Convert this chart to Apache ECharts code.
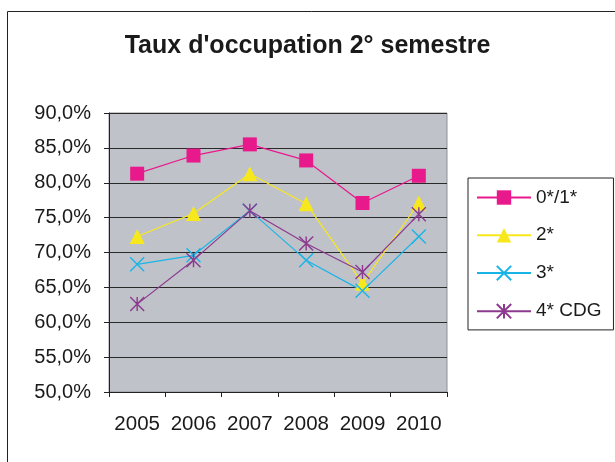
<!DOCTYPE html>
<html>
<head>
<meta charset="utf-8">
<script src="https://cdn.jsdelivr.net/npm/echarts@6/dist/echarts.min.js"></script>
<style>
  html, body { margin: 0; padding: 0; background: #fff; }
  #main { width: 615px; height: 462px; }
</style>
</head>
<body>
<div id="main"></div>
<script>
// données
var years = ['2005', '2006', '2007', '2008', '2009', '2010'];
var cat01 = [81.3, 83.9, 85.5, 83.2, 77.1, 81.0];
var cat2 = [72.3, 75.6, 81.3, 77.0, 65.6, 77.1];
var cat3 = [68.3, 69.6, 76.0, 68.9, 64.5, 72.3];
var cat4 = [62.6, 68.9, 76.0, 71.3, 67.2, 75.5];
var names = ['0*/1*', '2*', '3*', '4* CDG'];

var font = 'Liberation Sans, Arial, sans-serif';
var chart = echarts.init(document.getElementById('main'));

var option = {
  backgroundColor: '#fff',
  animation: false,
  title: {
    text: "Taux d'occupation 2° semestre",
    left: 'center',
    top: 29,
    textStyle: { fontFamily: font, fontSize: 25, fontWeight: 'bold', color: '#1a1a1a' }
  },
  graphic: [{
    type: 'rect',
    shape: { x: 7.5, y: 11.5, width: 700, height: 600 },
    style: { fill: 'none', stroke: '#222', lineWidth: 1 },
    silent: true
  }],
  legend: {
    orient: 'vertical',
    left: 468,
    top: 178,
    padding: [10, 12, 9, 8],
    itemGap: 18.7,
    itemWidth: 54,
    itemHeight: 18,
    borderColor: '#222',
    borderWidth: 1,
    textStyle: { fontFamily: font, fontSize: 19, color: '#1a1a1a' },
    data: names
  },
  grid: {
    left: 109,
    right: 168,
    top: 113,
    bottom: 70,
    show: true,
    backgroundColor: '#c0c2ca',
    borderColor: '#909090',
    borderWidth: 1
  },
  xAxis: {
    type: 'category',
    data: years,
    boundaryGap: true,
    axisLine: { lineStyle: { color: '#222', width: 1 } },
    axisTick: { show: true, length: 5, lineStyle: { color: '#222' } },
    axisLabel: { interval: 0, hideOverlap: false, margin: 22, fontFamily: font, fontSize: 20.5, color: '#1a1a1a' }
  },
  yAxis: {
    type: 'value',
    min: 50,
    max: 90,
    interval: 5,
    axisLine: { show: true, lineStyle: { color: '#222', width: 1 } },
    axisTick: { show: true, length: 5, lineStyle: { color: '#222' } },
    axisLabel: {
      margin: 18,
      fontFamily: font,
      fontSize: 20,
      color: '#1a1a1a',
      formatter: function (v) { return v.toFixed(1).replace('.', ',') + '%'; }
    },
    splitLine: { lineStyle: { color: '#2a2a2a', width: 1.2 } }
  },
  series: [
    {
      name: names[0], type: 'line', data: cat01,
      symbol: 'rect', symbolSize: 14,
      itemStyle: { color: '#e8198b' },
      lineStyle: { color: '#e8198b', width: 1.2 }
    },
    {
      name: names[1], type: 'line', data: cat2,
      symbol: 'triangle', symbolSize: 15,
      itemStyle: { color: '#f7e81e' },
      lineStyle: { color: '#f7e81e', width: 1.2 }
    },
    {
      name: names[2], type: 'line', data: cat3,
      symbol: 'path://M0,0L10,10M10,0L0,10', symbolSize: 14,
      itemStyle: { color: 'none', borderColor: '#19b5e6', borderWidth: 1.4 },
      lineStyle: { color: '#19b5e6', width: 1.2 }
    },
    {
      name: names[3], type: 'line', data: cat4,
      symbol: 'path://M0,0L10,10M10,0L0,10M5,0L5,10', symbolSize: 14,
      itemStyle: { color: 'none', borderColor: '#8b3a8e', borderWidth: 1.4 },
      lineStyle: { color: '#8b3a8e', width: 1.2 }
    }
  ]
};
chart.setOption(option);
</script>
</body>
</html>
